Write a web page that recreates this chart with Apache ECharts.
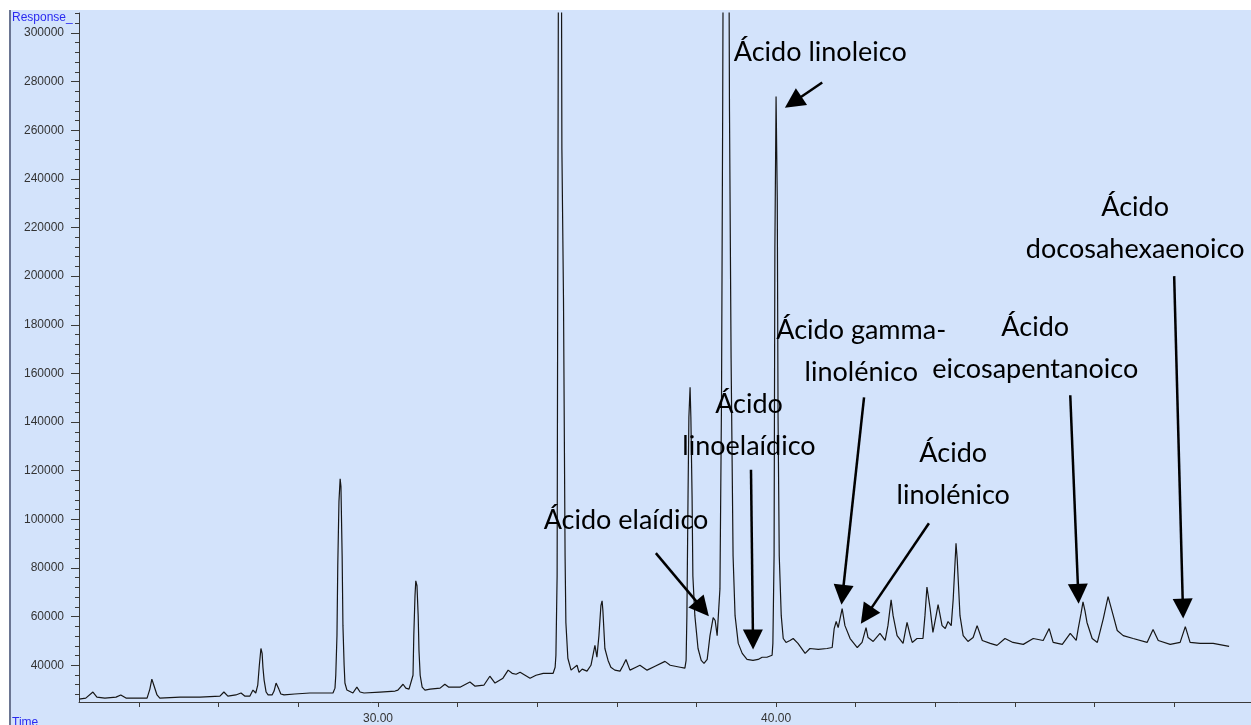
<!DOCTYPE html>
<html>
<head>
<meta charset="utf-8">
<script src="https://cdn.jsdelivr.net/npm/echarts@6/dist/echarts.min.js"></script>
<style>
  html, body { margin: 0; padding: 0; background: #ffffff; width: 1251px; height: 725px; overflow: hidden; }
  #edge { position: absolute; left: 9px; top: 10px; width: 2px; height: 715px; background: #6a7592; }
  #chart { position: absolute; left: 11px; top: 10px; width: 1240px; height: 715px; }
</style>
</head>
<body>
<div id="edge"></div>
<div id="chart"></div>
<script>
// Retention time (min) and detector response of the chromatogram trace
const retentionTime = [
  22.49, 22.66, 22.84, 22.94, 23.14, 23.42, 23.54, 23.67, 24.02, 24.20,
  24.27, 24.32, 24.37, 24.45, 24.52, 25.03, 25.53, 26.03, 26.13, 26.23,
  26.43, 26.56, 26.66, 26.78, 26.86, 26.93, 26.98, 27.02, 27.06, 27.09,
  27.11, 27.14, 27.19, 27.24, 27.34, 27.39, 27.44, 27.46, 27.51, 27.56,
  27.64, 27.91, 28.29, 28.67, 28.79, 28.87, 28.92, 28.94, 28.97, 28.99,
  29.02, 29.05, 29.07, 29.10, 29.12, 29.15, 29.17, 29.22, 29.27, 29.37,
  29.47, 29.55, 29.65, 30.05, 30.43, 30.50, 30.63, 30.70, 30.78, 30.83,
  30.88, 30.90, 30.93, 30.95, 30.98, 31.01, 31.03, 31.06, 31.11, 31.18,
  31.31, 31.56, 31.68, 31.78, 32.06, 32.31, 32.44, 32.66, 32.81, 32.94,
  33.14, 33.27, 33.37, 33.47, 33.57, 33.82, 33.97, 34.15, 34.40, 34.45,
  34.47, 34.50, 34.52, 34.57, 34.62, 34.66, 34.70, 34.72, 34.77, 34.85,
  34.90, 35.00, 35.05, 35.13, 35.25, 35.35, 35.45, 35.50, 35.55, 35.60,
  35.63, 35.65, 35.70, 35.78, 35.85, 35.95, 36.08, 36.16, 36.23, 36.33,
  36.48, 36.58, 36.76, 36.96, 37.21, 37.34, 37.59, 37.71, 37.74, 37.76,
  37.79, 37.81, 37.84, 37.86, 37.89, 37.91, 37.96, 38.04, 38.12, 38.19,
  38.27, 38.34, 38.42, 38.47, 38.52, 38.59, 38.63, 38.66, 38.74, 38.83,
  38.87, 38.92, 38.97, 39.05, 39.15, 39.27, 39.42, 39.55, 39.65, 39.77,
  39.90, 39.92, 39.95, 39.97, 40.00, 40.03, 40.05, 40.08, 40.13, 40.18,
  40.25, 40.35, 40.43, 40.55, 40.73, 40.85, 41.06, 41.28, 41.41, 41.46,
  41.51, 41.56, 41.66, 41.73, 41.86, 42.04, 42.16, 42.26, 42.31, 42.44,
  42.61, 42.74, 42.81, 42.89, 42.94, 43.04, 43.19, 43.29, 43.37, 43.42,
  43.54, 43.69, 43.74, 43.79, 43.87, 43.94, 44.02, 44.07, 44.17, 44.25,
  44.32, 44.40, 44.45, 44.52, 44.55, 44.62, 44.70, 44.82, 44.95, 45.05,
  45.18, 45.38, 45.55, 45.75, 45.95, 46.21, 46.46, 46.71, 46.86, 46.96,
  47.19, 47.39, 47.54, 47.59, 47.66, 47.71, 47.76, 47.81, 47.94, 48.07,
  48.22, 48.34, 48.47, 48.57, 48.72, 48.97, 49.32, 49.47, 49.60, 49.90,
  50.15, 50.28, 50.40, 50.65, 50.98, 51.38
];
const response = [
  26100, 26500, 29000, 26900, 26500, 26900, 27800, 26500, 26500, 26500,
  30200, 34300, 31800, 27800, 26500, 26900, 26900, 27300, 29000, 27300,
  27800, 28600, 27300, 27300, 29800, 28600, 31800, 40000, 46900, 44900,
  39200, 33900, 29000, 27800, 27800, 29400, 32700, 33100, 30200, 28200,
  27800, 28200, 28600, 28600, 28600, 28600, 30600, 35900, 52200, 80800,
  107300, 116700, 113500, 84900, 56300, 40000, 32700, 29800, 29000, 28600,
  31000, 29000, 28600, 29000, 29400, 29800, 32200, 30600, 30200, 30600,
  35900, 52200, 68600, 74700, 72700, 60400, 46100, 35900, 31000, 29800,
  30200, 30600, 32200, 31000, 31000, 33100, 31400, 31800, 35500, 32700,
  34700, 38000, 36700, 36300, 37100, 34700, 35900, 36700, 36700, 39200,
  44100, 76700, 231800, 600000, 252200, 191000, 84900, 57600, 42900, 38000,
  37600, 40000, 37100, 38400, 37600, 40000, 48200, 43300, 52200, 64500,
  66500, 62400, 46900, 42000, 39200, 38000, 37600, 40000, 42400, 38000,
  39200, 40000, 38000, 39600, 41600, 40000, 39200, 38800, 42000, 60400,
  112200, 142000, 154300, 142000, 109400, 76700, 60400, 46900, 42000, 40800,
  42400, 52200, 59600, 58400, 52200, 71400, 150200, 272700, 700000, 267800,
  166500, 84900, 60400, 49000, 44900, 42400, 42000, 42400, 43300, 43300,
  44100, 49000, 84900, 211400, 273900, 231800, 142000, 84900, 60400, 51000,
  49400, 50200, 51000, 49000, 44900, 46900, 46500, 46900, 47300, 55100,
  58000, 55500, 63300, 56300, 51000, 47300, 49400, 55500, 51400, 49800,
  53100, 50200, 56300, 66900, 60400, 52200, 49000, 57600, 52200, 49400,
  51000, 51000, 60400, 72200, 63300, 53500, 60400, 64900, 56300, 55100,
  58000, 56300, 67300, 90200, 83700, 60400, 52200, 49800, 51400, 56300,
  50200, 49000, 48200, 51000, 49400, 48600, 51000, 50200, 55100, 49400,
  48600, 53100, 50200, 55100, 61200, 66100, 62400, 57600, 51000, 49400,
  59200, 68200, 60400, 54300, 52200, 51000, 49400, 54700, 50200, 48600,
  49400, 55900, 49400, 49000, 49000, 47800
];

// Axis ticks and labels
const timeTicks = [24, 26, 28, 30, 32, 34, 36, 38, 40, 42, 44, 46, 48, 50];
const timeLabels = [30, 40];
const responseLabels = [40000, 60000, 80000, 100000, 120000, 140000, 160000, 180000,
  200000, 220000, 240000, 260000, 280000, 300000];
const responseMinorTicks = [];
for (let v = 28000; v <= 308000; v += 4000) responseMinorTicks.push(v);

// Compound annotations: label text, label centre, arrow tail and arrowhead point (time, response)
const compoundNames = [
  'Ácido linoleico',
  'Ácido gamma-\nlinolénico',
  'Ácido\neicosapentanoico',
  'Ácido\ndocosahexaenoico',
  'Ácido\nlinoelaídico',
  'Ácido\nlinolénico',
  'Ácido elaídico'
];
const labelAt = [
  [41.11, 292200], [42.14, 169000], [46.51, 170200], [49.02, 219600],
  [39.32, 138800], [44.45, 118400], [36.23, 99600]
];
const arrowFrom = [
  [41.16, 279600], [42.21, 150200], [47.39, 151000], [50.00, 200000],
  [39.37, 120400], [43.84, 98400], [36.98, 86100]
];
const arrowHead = [
  [40.43, 271500], [41.67, 69000], [47.59, 69400], [50.22, 63300],
  [39.42, 50600], [42.27, 60500], [38.15, 63300]
];

const chart = echarts.init(document.getElementById('chart'), null, { renderer: 'canvas' });

const axisColor = '#3a3a3a';
const yMin = 24900, yMax = 308200;

chart.setOption({
  backgroundColor: '#d3e3fb',
  animation: false,
  grid: { left: 68, top: 3, right: 0, bottom: 18, containLabel: false },
  xAxis: {
    type: 'value',
    min: 22.49,
    max: 51.93,
    axisLine: { show: true, lineStyle: { color: axisColor, width: 1 } },
    axisTick: { show: true, customValues: timeTicks, length: 5, lineStyle: { color: axisColor } },
    axisLabel: {
      show: true, customValues: timeLabels, margin: 11,
      formatter: v => v.toFixed(2),
      fontFamily: 'Liberation Sans', fontSize: 12, color: '#333'
    },
    splitLine: { show: false }
  },
  yAxis: [
    {
      type: 'value', position: 'left', offset: 0,
      min: yMin, max: yMax,
      axisLine: { show: true, lineStyle: { color: axisColor, width: 1 } },
      axisTick: { show: true, customValues: responseLabels, length: 8, lineStyle: { color: axisColor } },
      axisLabel: {
        show: true, customValues: responseLabels, margin: 15,
        formatter: v => String(v),
        fontFamily: 'Liberation Sans', fontSize: 12, color: '#333'
      },
      splitLine: { show: false }
    },
    {
      type: 'value', position: 'left', offset: 0,
      min: yMin, max: yMax,
      axisLine: { show: false },
      axisTick: { show: true, customValues: responseMinorTicks, length: 4, lineStyle: { color: axisColor } },
      axisLabel: { show: false },
      splitLine: { show: false }
    }
  ],
  graphic: [
    { type: 'text', left: 1, top: 2, style: { text: 'Response_', font: '12px "Liberation Sans"', fill: '#2b2bf0' } },
    { type: 'text', left: 1, top: 707, style: { text: 'Time', font: '12px "Liberation Sans"', fill: '#2b2bf0' } }
  ],
  series: [{
    type: 'line',
    yAxisIndex: 0,
    data: retentionTime.map((t, i) => [t, response[i]]),
    symbol: 'none',
    showSymbol: false,
    clip: true,
    lineStyle: { color: '#161616', width: 1.2 },
    emphasis: { disabled: true },
    markLine: {
      silent: true,
      symbol: ['none', 'triangle'],
      symbolSize: 20,
      lineStyle: { color: '#000', width: 2.5, type: 'solid' },
      label: { show: false },
      emphasis: { disabled: true },
      data: arrowFrom.map((from, i) => [{ coord: from }, { coord: arrowHead[i] }])
    },
    markPoint: {
      silent: true,
      symbol: 'rect',
      symbolSize: 1,
      itemStyle: { color: 'rgba(0,0,0,0)' },
      label: {
        show: true, position: 'inside', formatter: '{b}',
        fontFamily: 'Lato', fontSize: 27, lineHeight: 42, color: '#000', align: 'center'
      },
      emphasis: { disabled: true },
      data: compoundNames.map((name, i) => ({ name: name, coord: labelAt[i] }))
    }
  }]
});
</script>
</body>
</html>
